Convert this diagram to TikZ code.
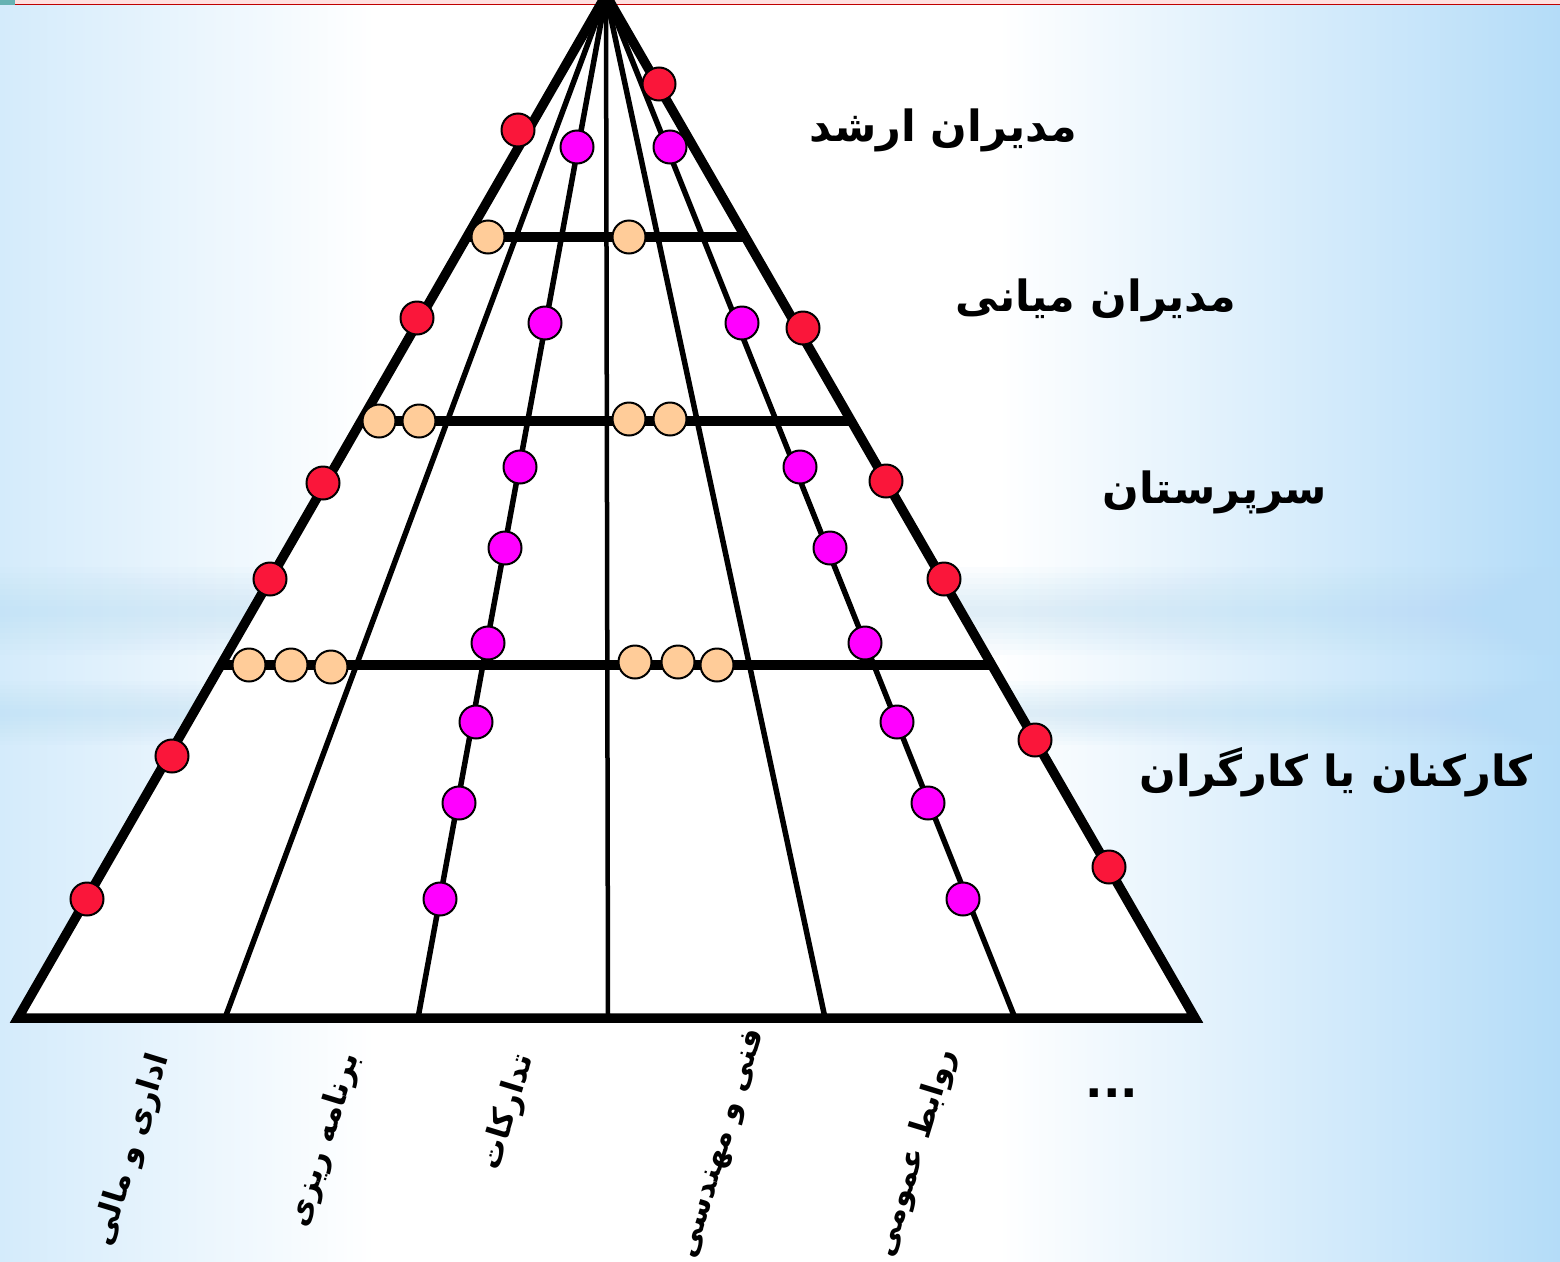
\documentclass[tikz,border=0pt]{standalone}
\usepackage{fontspec}
\newfontfamily\fa[Script=Arabic]{DejaVu Sans}
\newfontfamily\dv{DejaVu Sans}
\TeXXeTstate=1
\usetikzlibrary{calc}
\definecolor{reddot}{RGB}{250,22,58}
\definecolor{magdot}{RGB}{255,0,255}
\definecolor{peach}{RGB}{255,204,153}
\definecolor{bgl}{RGB}{212,235,251}
\definecolor{bgr}{RGB}{180,220,248}
\definecolor{bandc}{RGB}{182,220,247}
\pgfdeclarehorizontalshading{bgshade}{100bp}{color(0bp)=(bgl); color(25bp)=(bgl); color(37bp)=(white); color(57bp)=(white); color(75bp)=(bgr); color(100bp)=(bgr)}
\begin{document}
\begin{tikzpicture}[x=1pt,y=-1pt,
  outer/.style={line width=9.5pt, line join=miter},
  inner/.style={line width=5.5pt},
  bar/.style={line width=9.5pt},
  dotbase/.style={circle, draw=black, line width=2pt, minimum size=33pt, inner sep=0pt},
  rdot/.style={dotbase, fill=reddot},
  mdot/.style={dotbase, fill=magdot},
  pdot/.style={dotbase, fill=peach},
  lvl/.style={font=\fa\bfseries\fontsize{43}{50}\selectfont, inner sep=0pt},
  dept/.style={font=\fa\bfseries\fontsize{31}{36}\selectfont, inner sep=0pt, rotate=73}]
\useasboundingbox (0,0) rectangle (1560,1261);
% background
\shade[shading=bgshade] (0,0) rectangle (1560,1261);
\foreach \k in {1,...,8}{
  \fill[bandc, opacity=0.06] (0,{611-5.5*\k}) rectangle (1560,{611+5.5*\k});
  \fill[bandc, opacity=0.06] (0,{713-4*\k}) rectangle (1560,{713+4*\k});
}
\fill[red!12] (0,0) rectangle (1560,4);
\draw[red!75!black, line width=1.2pt] (15,4.5) -- (1560,4.5);
\fill[teal!60] (0,0) rectangle (15,5);
% geometry
\coordinate (apex) at (606,-5);
\coordinate (bl) at (18,1018);
\coordinate (br) at (1195,1018);
\coordinate (b1) at (225,1018);
\coordinate (b2) at (418,1018);
\coordinate (b3) at (608,1018);
\coordinate (b4) at (825,1018);
\coordinate (b5) at (1015,1018);
\coordinate (l1) at ($(apex)!0.2366!(bl)$);
\coordinate (r1) at ($(apex)!0.2366!(br)$);
\coordinate (l2) at ($(apex)!0.4164!(bl)$);
\coordinate (r2) at ($(apex)!0.4164!(br)$);
\coordinate (l3) at ($(apex)!0.6549!(bl)$);
\coordinate (r3) at ($(apex)!0.6549!(br)$);
\fill[white] (apex) -- (bl) -- (br) -- cycle;
\draw[inner] (apex) -- (b1);
\draw[inner] (apex) -- (b2);
\draw[line width=4.5pt] (apex) -- (b3);
\draw[inner] (apex) -- (b4);
\draw[inner] (apex) -- (b5);
\draw[bar] (l1) -- (r1);
\draw[bar] (l2) -- (r2);
\draw[bar] (l3) -- (r3);
\draw[outer] (apex) -- (bl) -- (br) -- cycle;
% red dots
\node[rdot] (rl1) at (518,130) {};
\node[rdot] (rl2) at (417,318) {};
\node[rdot] (rl3) at (323,483) {};
\node[rdot] (rl4) at (270,579) {};
\node[rdot] (rl5) at (172,756) {};
\node[rdot] (rl6) at (87,899) {};
\node[rdot] (rr1) at (659,84) {};
\node[rdot] (rr2) at (803,328) {};
\node[rdot] (rr3) at (886,481) {};
\node[rdot] (rr4) at (944,579) {};
\node[rdot] (rr5) at (1035,740) {};
\node[rdot] (rr6) at (1109,867) {};
% magenta dots
\node[mdot] (ml1) at (577,147) {};
\node[mdot] (ml2) at (545,323) {};
\node[mdot] (ml3) at (520,467) {};
\node[mdot] (ml4) at (505,548) {};
\node[mdot] (ml5) at (488,643) {};
\node[mdot] (ml6) at (476,722) {};
\node[mdot] (ml7) at (459,803) {};
\node[mdot] (ml8) at (440,899) {};
\node[mdot] (mr1) at (670,147) {};
\node[mdot] (mr2) at (742,323) {};
\node[mdot] (mr3) at (800,467) {};
\node[mdot] (mr4) at (830,548) {};
\node[mdot] (mr5) at (865,643) {};
\node[mdot] (mr6) at (897,722) {};
\node[mdot] (mr7) at (928,803) {};
\node[mdot] (mr8) at (963,899) {};
% peach dots
\node[pdot] (p1) at (488,237) {};
\node[pdot] (p2) at (629,237) {};
\node[pdot] (p3) at (379,421) {};
\node[pdot] (p4) at (419,421) {};
\node[pdot] (p5) at (629,419) {};
\node[pdot] (p6) at (670,419) {};
\node[pdot] (p7) at (249,665) {};
\node[pdot] (p8) at (291,665) {};
\node[pdot] (p9) at (331,667) {};
\node[pdot] (p10) at (635,662) {};
\node[pdot] (p11) at (678,662) {};
\node[pdot] (p12) at (717,665) {};
% level labels
\node[lvl] (t1) at (943,130) {\beginR مدیران ارشد\endR};
\node[lvl] (t2) at (1096,300) {\beginR مدیران میانی\endR};
\node[lvl] (t3) at (1215,492) {\beginR سرپرستان\endR};
\node[lvl] (t4) at (1336,772) {\beginR کارکنان یا کارگران\endR};
% departments
\node[dept] (d1) at (132,1150) {\beginR اداری و مالی\endR};
\node[dept] (d2) at (325,1140) {\beginR برنامه ریزی\endR};
\node[dept] (d3) at (508,1112) {\beginR تدارکات\endR};
\node[dept] (d4) at (723,1144) {\beginR فنی و مهندسی\endR};
\node[dept] (d5) at (916,1153) {\beginR روابط عمومی\endR};
\node[font=\dv\bfseries\fontsize{46}{50}\selectfont, inner sep=0pt] (d6) at (1112,1093) {...};
\end{tikzpicture}
\end{document}
